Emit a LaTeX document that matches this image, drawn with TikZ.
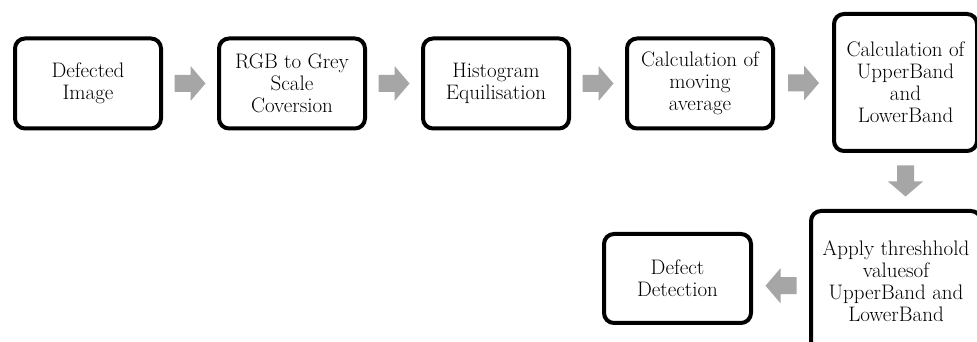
\documentclass[tikz,border=0pt]{standalone}
\usetikzlibrary{calc}
\definecolor{arrowgray}{HTML}{A6A6A6}
\tikzset{
  box/.style={draw=black, line width=4pt, rounded corners=10pt, fill=white,
    align=center, font=\fontsize{21}{22}\selectfont, inner sep=0pt},
  garrow/.pic={\fill[arrowgray] (-15.5,-8.5) -- (0.5,-8.5) -- (0.5,-17.5) -- (15.5,0)
     -- (0.5,17.5) -- (0.5,8.5) -- (-15.5,8.5) -- cycle;}
}
\begin{document}
\begin{tikzpicture}[x=1pt,y=1pt]
\useasboundingbox (0,0) rectangle (977,342);
\clip (0,0) rectangle (977,342);
\fill[white] (0,0) rectangle (977,342);
\node[box, minimum width=146pt, minimum height=90pt] (b1) at (88,258.5) {Defected\\Image};
\node[box, minimum width=146pt, minimum height=90pt] (b2) at (292,258.5) {RGB to Grey\\Scale\\Coversion};
\node[box, minimum width=146pt, minimum height=90pt] (b3) at (496,258.5) {Histogram\\Equilisation};
\node[box, minimum width=146pt, minimum height=90pt] (b4) at (700,258.5) {Calculation of\\moving\\average};
\node[box, minimum width=143pt, minimum height=137pt] (b5) at (905.5,259.5) {Calculation of\\UpperBand\\and\\LowerBand};
\node[box, minimum width=170pt, minimum height=140pt] (b6) at (896,61) {Apply threshhold\\valuesof\\UpperBand and\\LowerBand};
\node[box, minimum width=147pt, minimum height=89pt] (b7) at (677.5,63.5) {Defect\\Detection};
\pic at ($(b1.east)!0.5!(b2.west)$) {garrow};
\pic at ($(b2.east)!0.5!(b3.west)$) {garrow};
\pic at ($(b3.east)!0.5!(b4.west)$) {garrow};
\pic at ($(b4.east)!0.5!(b5.west)$) {garrow};
\pic[rotate=-90] at ($(b5.south)!0.5!(b5.south |- b6.north)$) {garrow};
\pic[rotate=180] at ($($(b7.east)!0.5!(b6.west)$)+(0,-6)$) {garrow};
\end{tikzpicture}
\end{document}
